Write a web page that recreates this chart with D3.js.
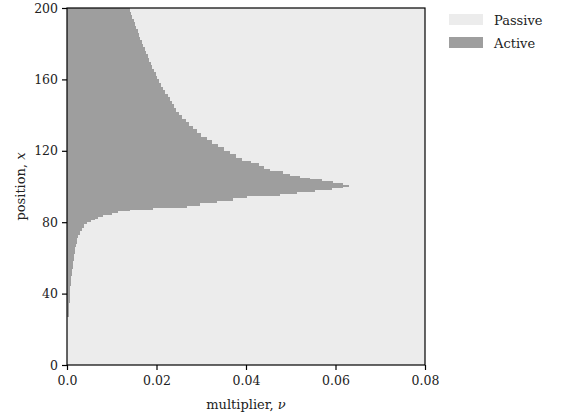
<!DOCTYPE html>
<html>
<head>
<meta charset="utf-8">
<script src="https://cdn.jsdelivr.net/npm/d3@7"></script>
<style>
  body { margin: 0; background: #fff; }
  text { font-family: "DejaVu Serif", serif; }
</style>
</head>
<body>
<script>
// rows of the position grid: each band runs from rowStart[i] to rowStart[i+1]
// and is active for multipliers below activeTo[i]
var rowStart = [0, 27, 35, 44, 50, 54, 58, 62, 66, 68, 71, 73, 75, 77, 79, 80, 81, 82, 83, 84, 85, 86, 87, 88,
    89, 90.5, 92, 93.5, 94.5, 96, 97, 98, 99, 100, 101, 102, 103, 104, 105, 106, 107, 108.5, 110, 111.5, 113, 114.5,
    116, 118, 120, 122, 124, 126, 128, 130, 132, 134, 136, 138, 140, 142, 144, 146, 148, 150, 152, 154, 156, 158,
    160, 162, 164, 166, 168, 170, 172, 174, 176, 178, 180, 182, 184, 186, 188, 190, 192, 194, 196, 198];
var activeTo = [0, 0.0005, 0.0007, 0.0009, 0.0012, 0.0014, 0.0016, 0.0018, 0.0020, 0.0022, 0.0025, 0.0028, 0.0033, 0.0038, 0.0045, 0.0053, 0.0062, 0.0070, 0.0081, 0.0100, 0.0115, 0.0141, 0.0192, 0.0268,
    0.0297, 0.0335, 0.0371, 0.0402, 0.0476, 0.0513, 0.0554, 0.0592, 0.0617, 0.0631, 0.0617, 0.0595, 0.0569, 0.0543, 0.0521, 0.0498, 0.0483, 0.0454, 0.0440, 0.0428, 0.0412, 0.0390,
    0.0378, 0.0365, 0.0351, 0.0338, 0.0325, 0.0312, 0.0300, 0.0290, 0.0281, 0.0273, 0.0265, 0.0258, 0.0251, 0.0244, 0.0238, 0.0234, 0.0230, 0.0225, 0.0220, 0.0215, 0.0210, 0.0206,
    0.0202, 0.0198, 0.0194, 0.0190, 0.0187, 0.0184, 0.0180, 0.0177, 0.0174, 0.0170, 0.0167, 0.0163, 0.0160, 0.0158, 0.0155, 0.0152, 0.0149, 0.0146, 0.0144, 0.0141];

var xTicks = [0, 0.02, 0.04, 0.06, 0.08];
var xTickLabels = ["0.0", "0.02", "0.04", "0.06", "0.08"];
var yTicks = [0, 40, 80, 120, 160, 200];
var states = ["Passive", "Active"];
var stateColors = ["#ececec", "#9e9e9e"];

var width = 565, height = 417;
var margin = {left: 67, right: 140, top: 8, bottom: 52};

var svg = d3.select("body").append("svg")
    .attr("width", width)
    .attr("height", height);

var x = d3.scaleLinear().domain([0, 0.08]).range([margin.left, width - margin.right]);
var y = d3.scaleLinear().domain([0, 200]).range([height - margin.bottom, margin.top]);

// passive background
svg.append("rect")
    .attr("x", x(0)).attr("y", y(200))
    .attr("width", x(0.08) - x(0)).attr("height", y(0) - y(200))
    .attr("fill", stateColors[0]);

var rows = rowStart.map(function (p, i) {
    return {lo: p, hi: i < rowStart.length - 1 ? rowStart[i + 1] : 200, nu: activeTo[i]};
});

svg.append("g").selectAll("rect")
    .data(rows.filter(function (d) { return d.nu > 0; }))
    .enter().append("rect")
    .attr("x", x(0))
    .attr("y", function (d) { return y(d.hi); })
    .attr("width", function (d) { return x(d.nu) - x(0); })
    .attr("height", function (d) { return y(d.lo) - y(d.hi); })
    .attr("fill", stateColors[1])
    .attr("shape-rendering", "crispEdges");

// frame
svg.append("rect")
    .attr("x", x(0)).attr("y", y(200))
    .attr("width", x(0.08) - x(0)).attr("height", y(0) - y(200))
    .attr("fill", "none").attr("stroke", "#000").attr("stroke-width", 1.2);

var xAxis = svg.append("g")
    .attr("transform", "translate(0," + y(0) + ")")
    .call(d3.axisBottom(x).tickValues(xTicks).tickSize(5).tickPadding(6)
        .tickFormat(function (d, i) { return xTickLabels[i]; }));
var yAxis = svg.append("g")
    .attr("transform", "translate(" + x(0) + ",0)")
    .call(d3.axisLeft(y).tickValues(yTicks).tickSize(5).tickPadding(4));

[xAxis, yAxis].forEach(function (g) {
    g.select(".domain").remove();
    g.selectAll("line").attr("stroke", "#000").attr("stroke-width", 1.2);
    g.selectAll("text").attr("fill", "#222").style("font-size", "12.5px")
        .style("font-family", "'DejaVu Serif', serif");
});

var xt = svg.append("text")
    .attr("x", (x(0) + x(0.08)) / 2).attr("y", 409)
    .attr("text-anchor", "middle").attr("fill", "#222").style("font-size", "13px");
xt.append("tspan").text("multiplier, ");
xt.append("tspan").attr("font-style", "italic").text("ν");

var yt = svg.append("text")
    .attr("transform", "translate(25," + (y(100)) + ") rotate(-90)")
    .attr("text-anchor", "middle").attr("fill", "#222").style("font-size", "13px");
yt.append("tspan").text("position, ");
yt.append("tspan").attr("font-style", "italic").text("x");

// legend
var leg = svg.append("g").selectAll("g")
    .data(states).enter().append("g")
    .attr("transform", function (d, i) { return "translate(449," + (14 + i * 23) + ")"; });
leg.append("rect")
    .attr("width", 34).attr("height", 11)
    .attr("fill", function (d, i) { return stateColors[i]; });
leg.append("text")
    .attr("x", 45).attr("y", 10.5)
    .attr("fill", "#222").style("font-size", "13px")
    .text(function (d) { return d; });
</script>
</body>
</html>
